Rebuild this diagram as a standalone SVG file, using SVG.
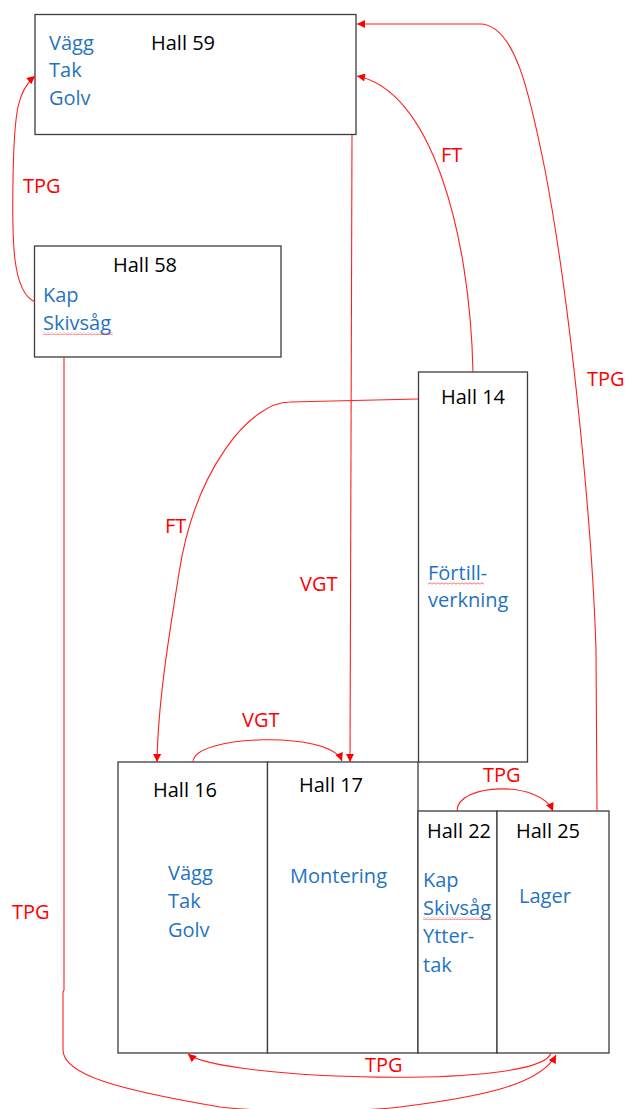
<svg xmlns="http://www.w3.org/2000/svg" width="626" height="1109" viewBox="0 0 626 1109">
<style>
  .box { fill: #ffffff; stroke: #3c3c3c; stroke-width: 1.3; }
  .t { font-family: "Open Sans", "Liberation Sans", sans-serif; font-size: 20px; }
  .hall { fill: #000000; }
  .blue { fill: #1f74c1; }
  .lbl { fill: #ff0000; }
  .conn { fill: none; stroke: #ff2020; stroke-width: 1.1; }
</style>
<defs>
  <marker id="arr" viewBox="0 0 10 10" refX="10" refY="5" markerWidth="9" markerHeight="8" markerUnits="userSpaceOnUse" orient="auto">
    <path d="M0,0 L10,5 L0,10 z" fill="#ff0000"/>
  </marker>
  <pattern id="wavy" x="0" y="0" width="4" height="3" patternUnits="userSpaceOnUse">
    <path d="M0,2.2 L2,0.8 L4,2.2" fill="none" stroke="#ff3030" stroke-width="0.7"/>
  </pattern>
</defs>
<rect width="626" height="1109" fill="#ffffff"/>

<g id="hall59">
  <rect class="box" x="35" y="14.5" width="321" height="120"/>
  <text class="t hall" x="151" y="50">Hall 59</text>
  <text class="t blue" x="49" y="50">Vägg</text>
  <text class="t blue" x="49" y="77">Tak</text>
  <text class="t blue" x="49" y="105">Golv</text>
</g>

<g id="hall58">
  <rect class="box" x="34.5" y="246" width="246.5" height="111"/>
  <text class="t hall" x="113" y="272">Hall 58</text>
  <text class="t blue" x="43" y="302">Kap</text>
  <text class="t blue" x="43" y="330">Skivsåg</text>
  <rect x="43" y="332" width="70" height="3" fill="url(#wavy)"/>
</g>

<g id="hall14">
  <rect class="box" x="418.5" y="372" width="109" height="390"/>
  <text class="t hall" x="441" y="404">Hall 14</text>
  <text class="t blue" x="428" y="580">Förtill-</text>
  <rect x="428" y="582" width="56" height="3" fill="url(#wavy)"/>
  <text class="t blue" x="428" y="607">verkning</text>
</g>

<g id="hall16">
  <rect class="box" x="118" y="762" width="149.5" height="291"/>
  <text class="t hall" x="153" y="797">Hall 16</text>
  <text class="t blue" x="168" y="880">Vägg</text>
  <text class="t blue" x="168" y="908">Tak</text>
  <text class="t blue" x="168" y="937">Golv</text>
</g>

<g id="hall17">
  <rect class="box" x="267.5" y="762" width="150.5" height="291"/>
  <text class="t hall" x="299" y="792">Hall 17</text>
  <text class="t blue" x="290" y="883">Montering</text>
</g>

<g id="hall22">
  <rect class="box" x="418" y="811" width="79" height="242"/>
  <text class="t hall" x="427" y="838">Hall 22</text>
  <text class="t blue" x="423" y="887">Kap</text>
  <text class="t blue" x="423" y="915">Skivsåg</text>
  <rect x="423" y="917" width="69" height="3" fill="url(#wavy)"/>
  <text class="t blue" x="423" y="943">Ytter-</text>
  <text class="t blue" x="423" y="972">tak</text>
</g>

<g id="hall25">
  <rect class="box" x="497" y="811" width="112" height="242"/>
  <text class="t hall" x="516" y="838">Hall 25</text>
  <text class="t blue" x="519" y="903">Lager</text>
</g>

<g id="connectors">
  <!-- Hall 58 -> Hall 59 TPG -->
  <path class="conn" d="M35,302 C 12,292 12,240 13,180 C 14,110 18,90 35,76" marker-end="url(#arr)"/>
  <!-- Hall 59 -> Hall 17 VGT -->
  <path class="conn" d="M352,135 L350,762" marker-end="url(#arr)"/>
  <!-- Hall 14 -> Hall 59 FT -->
  <path class="conn" d="M473,372 C 470,230 430,90 357,76" marker-end="url(#arr)"/>
  <!-- Hall 25 -> Hall 59 TPG -->
  <path class="conn" d="M597,811 L596,650 C 592,520 570,300 545,170 C 530,95 515,24 480,24 L357,24" marker-end="url(#arr)"/>
  <!-- Hall 14 -> Hall 16 FT -->
  <path class="conn" d="M418,399 L290,402 C 250,402 195,470 179,573 C 170,630 158,700 157,762" marker-end="url(#arr)"/>
  <!-- Hall 16 -> Hall 17 VGT -->
  <path class="conn" d="M193,762 C 193,735 330,730 342,761" marker-end="url(#arr)"/>
  <!-- Hall 22 -> Hall 25 TPG -->
  <path class="conn" d="M457,811 C 457,783 540,780 553,811" marker-end="url(#arr)"/>
  <!-- Hall 25 -> Hall 16 TPG -->
  <path class="conn" d="M551,1053 C 540,1090 220,1080 188,1054" marker-end="url(#arr)"/>
  <!-- Hall 58 -> Hall 25 TPG -->
  <path class="conn" d="M64,357 L64,990 L63,992 L63,1050 C 63,1075 120,1090 220,1107 C 260,1112 360,1112 400,1107 C 480,1097 540,1085 556,1055" marker-end="url(#arr)"/>

  <text class="t lbl" x="23" y="193">TPG</text>
  <text class="t lbl" x="441" y="162">FT</text>
  <text class="t lbl" x="587" y="386">TPG</text>
  <text class="t lbl" x="165" y="533">FT</text>
  <text class="t lbl" x="300" y="591">VGT</text>
  <text class="t lbl" x="242" y="727">VGT</text>
  <text class="t lbl" x="483" y="782">TPG</text>
  <text class="t lbl" x="12" y="919">TPG</text>
  <text class="t lbl" x="365" y="1072">TPG</text>
</g>
</svg>
